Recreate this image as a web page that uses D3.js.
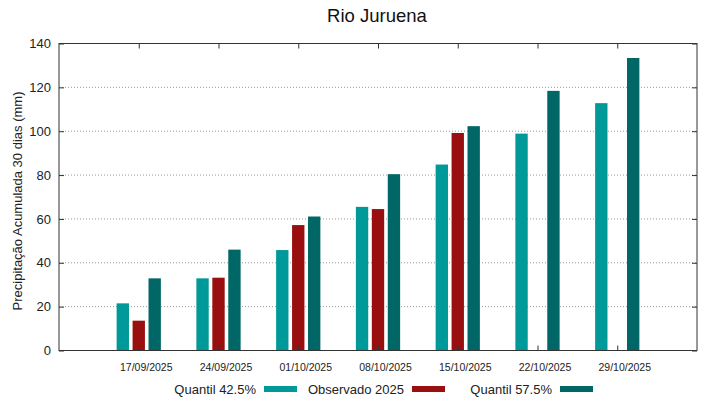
<!doctype html>
<html lang="pt">
  <head>
    <meta charset="utf-8">
    <title>Rio Juruena</title>
    <script src="https://d3js.org/d3.v7.min.js"></script>
    <style>
      body { margin: 0; background: #fff; }
      svg { font-family: "Liberation Sans", Arial, sans-serif; }
    </style>
  </head>
  <body>
    <div id="chart"></div>
    <script>

      // data
      const dates = ["17/09/2025", "24/09/2025", "01/10/2025", "08/10/2025", "15/10/2025", "22/10/2025", "29/10/2025"];
      const q425 = [21.5, 32.9, 45.8, 65.5, 84.8, 98.9, 112.8];
      const obs2025 = [13.6, 33.2, 57.2, 64.5, 99.2, null, null];
      const q575 = [32.9, 46.0, 61.1, 80.4, 102.3, 118.4, 133.4];
      const yTicks = [0, 20, 40, 60, 80, 100, 120, 140];

      const series = [
        {name: "Quantil 42.5%", values: q425, color: "#009999", offset: -0.2},
        {name: "Observado 2025", values: obs2025, color: "#990f0f", offset: 0},
        {name: "Quantil 57.5%", values: q575, color: "#006666", offset: 0.2}
      ];

      const W = 719, H = 399;
      // plot box edges
      const box = {left: 59, right: 697, top: 43.5, bottom: 350.5};

      const svg = d3.select("#chart")
        .append("svg")
          .attr("width", W)
          .attr("height", H);

      const x = d3.scaleLinear()
        .domain([0, dates.length + 1])
        .range([box.left, box.right]);

      const y = d3.scaleLinear()
        .domain([0, 140])
        .range([box.bottom, box.top]);

      // dotted grid
      svg.append("g")
        .selectAll("line")
        .data(yTicks.filter(d => d > 0 && d < 140))
        .join("line")
          .attr("x1", box.left)
          .attr("x2", box.right)
          .attr("y1", d => y(d))
          .attr("y2", d => y(d))
          .attr("stroke", "#999")
          .attr("stroke-width", 1)
          .attr("stroke-dasharray", "1,2");

      // bars
      const bw = x(0.155) - x(0);
      series.forEach(s => {
        svg.append("g")
          .selectAll("rect")
          .data(s.values.map((v, i) => ({v, i})).filter(d => d.v != null))
          .join("rect")
            .attr("x", d => x(d.i + 1 + s.offset) - bw / 2)
            .attr("y", d => y(d.v))
            .attr("width", bw)
            .attr("height", d => y(0) - y(d.v))
            .attr("fill", s.color);
      });

      // axes (gnuplot style, ticks pointing inwards)
      const tickVals = dates.map((d, i) => i + 1);

      const gx = svg.append("g")
        .attr("transform", `translate(0,${box.bottom})`)
        .call(d3.axisBottom(x)
          .tickValues(tickVals)
          .tickFormat((d, i) => dates[i])
          .tickSize(-5)
          .tickPadding(13));
      gx.selectAll("text")
        .attr("font-size", "10.5px")
        .attr("dx", 7)
        .attr("fill", "#222");

      svg.append("g")
        .attr("transform", `translate(0,${box.top})`)
        .call(d3.axisTop(x).tickValues(tickVals).tickSize(-5).tickFormat(""));

      const gy = svg.append("g")
        .attr("transform", `translate(${box.left},0)`)
        .call(d3.axisLeft(y).tickValues(yTicks).tickSize(-5).tickPadding(8));
      gy.selectAll("text").attr("font-size", "13px").attr("fill", "#222");

      svg.append("g")
        .attr("transform", `translate(${box.right},0)`)
        .call(d3.axisRight(y).tickValues(yTicks).tickSize(-5).tickFormat(""));

      svg.selectAll(".domain").remove();
      svg.selectAll(".tick line").attr("stroke", "#333");

      // frame
      svg.append("rect")
        .attr("x", box.left)
        .attr("y", box.top)
        .attr("width", box.right - box.left)
        .attr("height", box.bottom - box.top)
        .attr("fill", "none")
        .attr("stroke", "#333")
        .attr("stroke-width", 1);

      // title
      svg.append("text")
        .attr("x", 377)
        .attr("y", 22)
        .attr("text-anchor", "middle")
        .attr("font-size", "18.5px")
        .attr("fill", "#111")
        .text("Rio Juruena");

      // y label
      svg.append("text")
        .attr("transform", "translate(22,201) rotate(-90)")
        .attr("text-anchor", "middle")
        .attr("font-size", "13px")
        .attr("fill", "#222")
        .text("Precipitação Acumulada 30 dias (mm)");

      // legend
      const legend = svg.append("g")
        .selectAll("g")
        .data(series)
        .join("g")
          .attr("transform", (d, i) => `translate(${297 + 148 * i},389)`);
      legend.append("rect")
        .attr("x", -33)
        .attr("y", -3)
        .attr("width", 33)
        .attr("height", 6)
        .attr("fill", d => d.color);
      legend.append("text")
        .attr("x", -41)
        .attr("y", 4.5)
        .attr("text-anchor", "end")
        .attr("font-size", "13px")
        .attr("fill", "#222")
        .text(d => d.name);

    </script>
  </body>
</html>
